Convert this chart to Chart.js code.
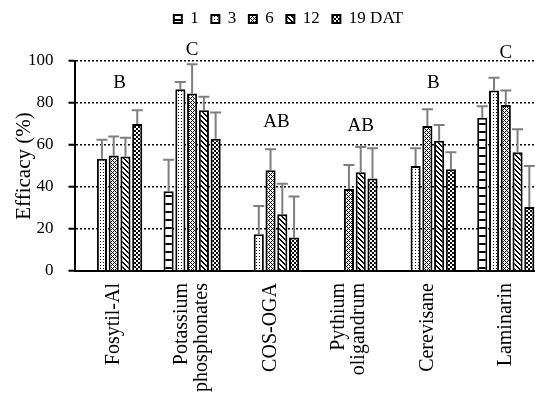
<!DOCTYPE html>
<html>
<head>
<meta charset="utf-8">
<script src="https://cdn.jsdelivr.net/npm/chart.js@4/dist/chart.umd.min.js"></script>
<style>
html, body { margin: 0; padding: 0; background: #fff; overflow: hidden; }
#wrap { width: 545px; height: 401px; }
</style>
</head>
<body>
<div id="wrap"><canvas id="efficacy" width="545" height="401"></canvas></div>
<script>
// Treatments on the x axis
const treatments = ['Fosytil-Al', ['Potassium', 'phosphonates'], 'COS-OGA', ['Pythium', 'oligandrum'], 'Cerevisane', 'Laminarin'];
// Days after treatment (legend)
const seriesNames = ['1', '3', '6', '12', '19 DAT'];

// Efficacy (%) per series
const day1 = [null, 38, null, null, null, 73];
const day3 = [53.5, 86.5, 17.5, null, 50, 86];
const day6 = [55, 84.5, 48, 39, 69, 79];
const day12 = [54.5, 76.5, 27, 47, 62, 56.5];
const day19 = [70, 63, 16, 44, 48.5, 30.5];

// Standard error (upper bar only)
const err1 = [null, 15, null, null, null, 5.5];
const err3 = [9, 3.5, 13.5, null, 8.5, 6];
const err6 = [9, 14, 10, 11.5, 8, 7];
const err12 = [9, 6.5, 14.5, 12, 7.5, 11];
const err19 = [6.5, 12.5, 19.5, 14.5, 8, 19.5];

// Significance letters and the level they sit at
const letters = ['B', 'C', 'AB', 'AB', 'B', 'C'];
const letterLevels = [89.5, 105, 71, 69, 89.5, 104];

const serif = 'Liberation Serif, Times New Roman, serif';

function makePattern(size, paint) {
    const c = document.createElement('canvas');
    c.width = size;
    c.height = size;
    const g = c.getContext('2d');
    g.fillStyle = '#fff';
    g.fillRect(0, 0, size, size);
    g.fillStyle = '#000';
    for (let x = 0; x < size; x++) {
        for (let y = 0; y < size; y++) {
            if (paint(x, y)) g.fillRect(x, y, 1, 1);
        }
    }
    return document.getElementById('efficacy').getContext('2d').createPattern(c, 'repeat');
}

const patterns = [
    makePattern(8, (x, y) => y === 3 || y === 4),                          // horizontal lines
    makePattern(3, (x, y) => x === 1 && y === 1),                          // small dots
    makePattern(4, (x, y) => (x - y + 4) % 4 === 0 || (x + y) % 4 === 0),  // lattice
    makePattern(5, (x, y) => ((x - y) % 5 + 5) % 5 <= 1),                  // diagonal
    makePattern(4, (x, y) => ((x >> 1) + (y >> 1)) % 2 === 0)              // checker
];

const values = [day1, day3, day6, day12, day19];
const errors = [err1, err3, err6, err12, err19];

// Error bars drawn upward from the top of each bar
const errorBars = {
    id: 'errorBars',
    afterDatasetsDraw(chart) {
        const ctx = chart.ctx;
        const yScale = chart.scales.y;
        ctx.save();
        ctx.strokeStyle = '#7f7f7f';
        ctx.lineWidth = 2;
        values.forEach((series, i) => {
            const meta = chart.getDatasetMeta(i);
            meta.data.forEach((bar, j) => {
                if (series[j] == null) return;
                const top = yScale.getPixelForValue(series[j] + errors[i][j]);
                ctx.beginPath();
                ctx.moveTo(bar.x, bar.y);
                ctx.lineTo(bar.x, top);
                ctx.moveTo(bar.x - 5.5, top);
                ctx.lineTo(bar.x + 5.5, top);
                ctx.stroke();
            });
        });
        ctx.restore();
    }
};

// Letters centred over the bars present in each group
const groupLetters = {
    id: 'groupLetters',
    afterDraw(chart) {
        const ctx = chart.ctx;
        const yScale = chart.scales.y;
        ctx.save();
        ctx.fillStyle = '#000';
        ctx.font = '19px ' + serif;
        ctx.textAlign = 'center';
        ctx.textBaseline = 'middle';
        letters.forEach((txt, j) => {
            let sum = 0, n = 0;
            values.forEach((series, i) => {
                if (series[j] == null) return;
                sum += chart.getDatasetMeta(i).data[j].x;
                n++;
            });
            ctx.fillText(txt, sum / n, yScale.getPixelForValue(letterLevels[j]));
        });
        ctx.restore();
    }
};

// Rotated category labels, multi-line ones centred on the tick
const categoryLabels = {
    id: 'categoryLabels',
    afterDraw(chart) {
        const ctx = chart.ctx;
        const xScale = chart.scales.x;
        const lh = 20;
        ctx.save();
        ctx.fillStyle = '#000';
        ctx.font = '20px ' + serif;
        ctx.textAlign = 'right';
        ctx.textBaseline = 'middle';
        treatments.forEach((label, j) => {
            const lines = Array.isArray(label) ? label : [label];
            const px = xScale.getPixelForValue(j);
            lines.forEach((line, k) => {
                ctx.save();
                ctx.translate(px + (k - (lines.length - 1) / 2) * lh, xScale.top + 12);
                ctx.rotate(-Math.PI / 2);
                ctx.fillText(line, 0, 0);
                ctx.restore();
            });
        });
        ctx.restore();
    }
};

// Legend sits a little right of the canvas centre and higher up
const moveLegend = {
    id: 'moveLegend',
    afterLayout(chart) {
        const lg = chart.legend;
        lg.left += 16;
        lg.right += 16;
        lg.top -= 23.5;
        lg.bottom -= 23.5;
    }
};

new Chart(document.getElementById('efficacy'), {
    type: 'bar',
    data: {
        labels: treatments,
        datasets: values.map((series, i) => ({
            label: seriesNames[i],
            data: series,
            backgroundColor: patterns[i],
            borderColor: '#000',
            borderWidth: 2,
            barPercentage: 0.86,
            categoryPercentage: 0.75
        }))
    },
    options: {
        responsive: false,
        animation: false,
        devicePixelRatio: 1,
        layout: { padding: { left: 0, right: 0, top: 21.5, bottom: 0 } },
        plugins: {
            legend: {
                position: 'top',
                labels: {
                    boxWidth: 8,
                    boxHeight: 8,
                    padding: 12.5,
                    color: '#000',
                    font: { family: serif, size: 17 }
                }
            },
            tooltip: { enabled: false }
        },
        scales: {
            x: {
                grid: { display: false, drawTicks: false },
                border: { display: true, color: '#000', width: 2 },
                ticks: { display: false },
                afterFit(scale) { scale.height = 130; }
            },
            y: {
                min: 0,
                max: 100,
                ticks: {
                    stepSize: 20,
                    color: '#000',
                    font: { family: serif, size: 17 },
                    padding: 15
                },
                grid: {
                    color: '#000',
                    lineWidth: 1.5,
                    tickLength: 6,
                    tickColor: '#000',
                    tickWidth: 2
                },
                border: { display: true, color: '#000', width: 2, dash: [2, 2] },
                title: {
                    display: true,
                    text: 'Efficacy (%)',
                    color: '#000',
                    font: { family: serif, size: 21 },
                    padding: { top: 11.5, bottom: 0 }
                },
                afterFit(scale) { scale.width = 74.5; }
            }
        }
    },
    plugins: [errorBars, groupLetters, categoryLabels, moveLegend]
});
</script>
</body>
</html>
